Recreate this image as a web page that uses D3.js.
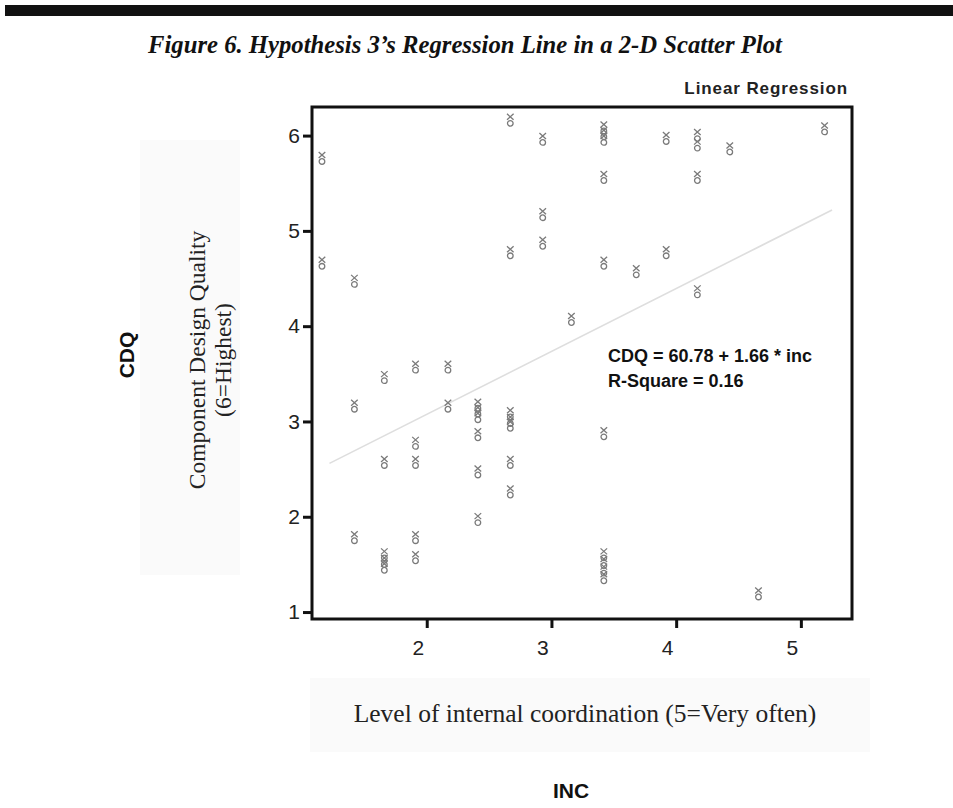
<!DOCTYPE html>
<html>
<head>
<meta charset="utf-8">
<script src="https://cdn.jsdelivr.net/npm/d3@7"></script>
<style>
  body { margin: 0; background: #fff; }
  svg { display: block; }
</style>
</head>
<body>
<div class="canvas"></div>
<script>
// scatter points (inc, cdq)
const incValues = [1.16, 1.16, 1.42, 1.42, 1.42, 1.66, 1.66, 1.66, 1.66, 1.66,
  1.91, 1.91, 1.91, 1.91, 1.91, 2.17, 2.17, 2.41, 2.41, 2.41, 2.41, 2.41, 2.41,
  2.67, 2.67, 2.67, 2.67, 2.67, 2.67, 2.67, 2.93, 2.93, 2.93, 3.16,
  3.42, 3.42, 3.42, 3.42, 3.42, 3.42, 3.42, 3.42, 3.42, 3.42,
  3.68, 3.92, 3.92, 4.17, 4.17, 4.17, 4.17, 4.43, 4.66, 5.19];
const cdqValues = [5.76, 4.66, 4.47, 3.16, 1.78, 3.46, 2.57, 1.60, 1.53, 1.47,
  3.57, 2.77, 2.57, 1.78, 1.57, 3.57, 3.16, 3.17, 3.11, 3.05, 2.86, 2.47, 1.97,
  6.16, 4.77, 3.08, 3.01, 2.96, 2.57, 2.26, 5.96, 5.17, 4.87, 4.07,
  6.08, 6.02, 5.96, 5.56, 4.66, 2.87, 1.60, 1.52, 1.44, 1.36,
  4.57, 5.97, 4.77, 6.00, 5.90, 5.56, 4.36, 5.86, 1.19, 6.07];

// fitted line end points
const lineInc = [1.22, 5.25];
const lineCdq = [2.56, 5.22];

const xTicks = [2, 3, 4, 5];
const yTicks = [1, 2, 3, 4, 5, 6];

const data = incValues.map((v, i) => ({ x: v, y: cdqValues[i] }));

const width = 953, height = 808;
const frame = { left: 312, top: 107, right: 852, bottom: 619 };

const x = d3.scaleLinear().domain([1.08, 5.41]).range([frame.left, frame.right]);
const y = d3.scaleLinear().domain([0.927, 6.30]).range([frame.bottom, frame.top]);

const svg = d3.select(".canvas").append("svg")
  .attr("width", width)
  .attr("height", height);

// black rule at the top of the page
svg.append("rect").attr("x", 5).attr("y", 5).attr("width", width - 5).attr("height", 11).attr("fill", "#111");

svg.append("text")
  .attr("x", 465).attr("y", 53)
  .attr("text-anchor", "middle")
  .style("font-family", "'Liberation Serif', 'Times New Roman', serif")
  .style("font-weight", "bold").style("font-style", "italic")
  .style("font-size", "24.7px")
  .attr("fill", "#111")
  .text("Figure 6. Hypothesis 3’s Regression Line in a 2-D Scatter Plot");

// faint backgrounds behind the serif axis captions
svg.append("rect").attr("x", 140).attr("y", 140).attr("width", 100).attr("height", 435).attr("fill", "#fafafa");
svg.append("rect").attr("x", 310).attr("y", 678).attr("width", 560).attr("height", 74).attr("fill", "#fafafa");

svg.append("text")
  .attr("x", 848).attr("y", 94)
  .attr("text-anchor", "end")
  .style("font-family", "'Liberation Sans', Arial, sans-serif")
  .style("font-weight", "bold").style("font-size", "17px")
  .style("letter-spacing", "0.9px")
  .attr("fill", "#222")
  .text("Linear Regression");

// axes
const yAxis = svg.append("g")
  .attr("transform", `translate(${frame.left},0)`)
  .call(d3.axisLeft(y).tickValues(yTicks).tickSize(9).tickPadding(3).tickFormat(d3.format("d")));
const xAxis = svg.append("g")
  .attr("transform", `translate(0,${frame.bottom})`)
  .call(d3.axisBottom(x).tickValues(xTicks).tickSize(9).tickPadding(12).tickFormat(d3.format("d")));

[yAxis, xAxis].forEach(g => {
  g.select(".domain").remove();
  g.selectAll(".tick line").attr("stroke", "#111").attr("stroke-width", 3);
  g.selectAll(".tick text")
    .style("font-family", "'Liberation Sans', Arial, sans-serif")
    .style("font-size", "21px")
    .attr("fill", "#222");
});
xAxis.selectAll(".tick text").attr("dx", -9);

svg.append("rect")
  .attr("x", frame.left).attr("y", frame.top)
  .attr("width", frame.right - frame.left).attr("height", frame.bottom - frame.top)
  .attr("fill", "none").attr("stroke", "#111").attr("stroke-width", 3);

// regression line
svg.append("line")
  .attr("x1", x(lineInc[0])).attr("y1", y(lineCdq[0]))
  .attr("x2", x(lineInc[1])).attr("y2", y(lineCdq[1]))
  .attr("stroke", "#dedede").attr("stroke-width", 1.6);

// markers: small x sitting on a small circle
const marks = svg.append("g")
  .selectAll("g")
  .data(data)
  .join("g")
    .attr("transform", d => `translate(${x(d.x)},${y(d.y)})`)
    .attr("stroke", "#7a7a7a").attr("fill", "none").attr("stroke-width", 1.3);
marks.append("path").attr("d", "M-3.3,-6.5 L3.3,-0.5 M3.3,-6.5 L-3.3,-0.5");
marks.append("circle").attr("cx", 0).attr("cy", 3).attr("r", 2.8);

const eq = svg.append("g")
  .style("font-family", "'Liberation Sans', Arial, sans-serif")
  .style("font-weight", "bold").style("font-size", "18px")
  .attr("fill", "#111");
eq.append("text").attr("x", 608).attr("y", 362).text("CDQ = 60.78 + 1.66 * inc");
eq.append("text").attr("x", 608).attr("y", 387).text("R-Square = 0.16");

// axis captions
svg.append("text")
  .attr("transform", "translate(134,355) rotate(-90)")
  .attr("text-anchor", "middle")
  .style("font-family", "'Liberation Sans', Arial, sans-serif")
  .style("font-weight", "bold").style("font-size", "21px")
  .attr("fill", "#111")
  .text("CDQ");

const yCap = svg.append("text")
  .attr("transform", "translate(205,360) rotate(-90)")
  .attr("text-anchor", "middle")
  .style("font-family", "'Liberation Serif', 'Times New Roman', serif")
  .style("font-size", "23.5px")
  .attr("fill", "#222");
yCap.append("tspan").attr("x", 0).attr("dy", 0).text("Component  Design  Quality");
yCap.append("tspan").attr("x", 0).attr("dy", 26).text("(6=Highest)");

svg.append("text")
  .attr("x", 585).attr("y", 722)
  .attr("text-anchor", "middle")
  .style("font-family", "'Liberation Serif', 'Times New Roman', serif")
  .style("font-size", "25.5px")
  .attr("fill", "#222")
  .text("Level of internal coordination (5=Very often)");

svg.append("text")
  .attr("x", 571).attr("y", 798)
  .attr("text-anchor", "middle")
  .style("font-family", "'Liberation Sans', Arial, sans-serif")
  .style("font-weight", "bold").style("font-size", "21px")
  .attr("fill", "#111")
  .text("INC");
</script>
</body>
</html>
